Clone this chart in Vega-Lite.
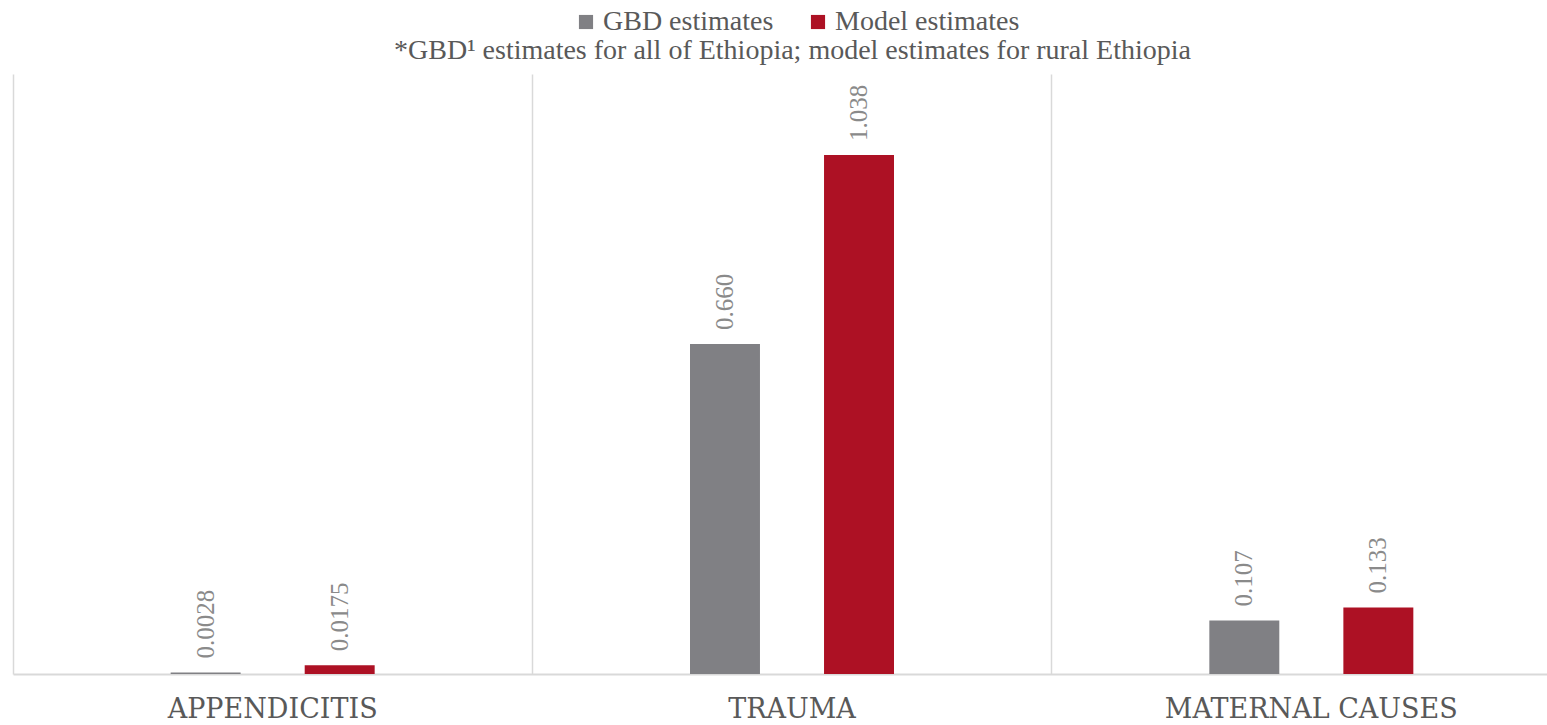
{
  "$schema": "https://vega.github.io/schema/vega-lite/v6.json",
  "autosize": {"type": "none"},
  "width": 1558,
  "height": 600,
  "padding": {"left": 13, "top": 74, "right": -24, "bottom": 51},
  "background": "white",
  "data": {"values": [
    {"cause": "APPENDICITIS", "series": "GBD estimates", "value": 0.0028, "label": "0.0028"},
    {"cause": "APPENDICITIS", "series": "Model estimates", "value": 0.0175, "label": "0.0175"},
    {"cause": "TRAUMA", "series": "GBD estimates", "value": 0.660, "label": "0.660"},
    {"cause": "TRAUMA", "series": "Model estimates", "value": 1.038, "label": "1.038"},
    {"cause": "MATERNAL CAUSES", "series": "GBD estimates", "value": 0.107, "label": "0.107"},
    {"cause": "MATERNAL CAUSES", "series": "Model estimates", "value": 0.133, "label": "0.133"}
  ]},
  "encoding": {
    "x": {"field": "cause", "type": "nominal", "sort": ["APPENDICITIS", "TRAUMA", "MATERNAL CAUSES"],
      "scale": {"paddingInner": 0.091, "paddingOuter": 0.0455}},
    "xOffset": {"field": "series", "type": "nominal", "sort": ["GBD estimates", "Model estimates"],
      "scale": {"paddingInner": 0.478, "paddingOuter": 1}},
    "y": {"field": "value", "type": "quantitative", "scale": {"domain": [0, 1.2], "nice": false}, "axis": null}
  },
  "layer": [
    {
      "mark": {"type": "bar"},
      "encoding": {
        "x": {"field": "cause", "type": "nominal", "sort": ["APPENDICITIS", "TRAUMA", "MATERNAL CAUSES"],
          "axis": {"orient": "bottom", "title": null, "labelAngle": 0, "labelFont": "DejaVu Serif", "labelFontSize": 27,
            "labelColor": "#595959", "labelPadding": 22, "labelLimit": 0, "ticks": false, "domainColor": "#d9d9d9", "domainWidth": 2,
            "grid": true, "gridColor": "#d9d9d9", "gridWidth": 1.5, "bandPosition": -0.05}},
        "color": {"field": "series", "type": "nominal",
          "scale": {"domain": ["GBD estimates", "Model estimates"], "range": ["#808084", "#ad1124"]},
          "legend": {"orient": "none", "direction": "horizontal", "legendX": 559, "legendY": -66, "title": null,
            "symbolType": "square", "symbolSize": 200, "symbolStrokeWidth": 0, "labelFont": "Liberation Serif",
            "labelFontSize": 28, "labelColor": "#595959", "labelOffset": 3, "labelLimit": 0, "columnPadding": 30}}
      }
    },
    {
      "mark": {"type": "text", "angle": -90, "align": "left", "baseline": "middle", "dx": 14,
        "font": "Liberation Serif", "fontSize": 25, "color": "#8a8a8a"},
      "encoding": {
        "x": {"field": "cause", "type": "nominal", "sort": ["APPENDICITIS", "TRAUMA", "MATERNAL CAUSES"],
          "axis": {"orient": "top", "title": "*GBD¹ estimates for all of Ethiopia; model estimates for rural Ethiopia",
            "titleFont": "Liberation Serif", "titleFontSize": 28, "titleFontWeight": "normal", "titleColor": "#595959",
            "titlePadding": 10, "titleLimit": 0, "labels": false, "ticks": false, "domain": false, "grid": false}},
        "text": {"field": "label", "type": "nominal"}
      }
    }
  ],
  "resolve": {"axis": {"x": "independent"}},
  "config": {"view": {"stroke": null}}
}
